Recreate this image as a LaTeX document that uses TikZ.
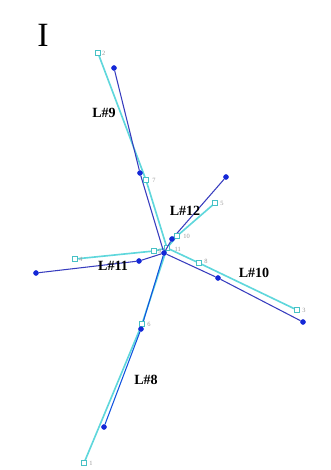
\documentclass[tikz,border=0pt]{standalone}
\usepackage{fontspec}
\setmainfont{Liberation Serif}
\usepackage{tikz}
\usetikzlibrary{positioning}
\definecolor{netblue}{RGB}{55,60,190}
\definecolor{dotblue}{RGB}{20,40,215}
\definecolor{netcyan}{RGB}{95,215,220}
\tikzset{
  meas/.style={rectangle,draw=netcyan!75!teal,fill=white,line width=0.6pt,
               minimum size=4pt,inner sep=0pt},
  est/.style={circle,fill=dotblue,minimum size=4.5pt,inner sep=0pt},
  nlab/.style={font=\fontsize{5.5}{5.5}\selectfont,text=gray!80,inner sep=1pt},
  llab/.style={font=\bfseries\fontsize{12}{13}\selectfont,inner sep=0pt},
  cline/.style={netcyan,line width=1.4pt},
  bline/.style={netblue,line width=0.9pt},
}
\begin{document}
\begin{tikzpicture}[x=0.03cm,y=-0.03cm]
  \useasboundingbox (0,0) rectangle (330,470);

  % measured positions
  \node[meas] (c2) at (98,53) {};
  \node[meas] (c7) at (146,180) {};
  \node[meas] (c5) at (215,203) {};
  \node[meas] (c10) at (177,236) {};
  \node[meas] (c11) at (167,248) {};
  \node[meas] (c4) at (75,259) {};
  \node[meas] (c9) at (154,251) {};
  \node[meas] (c8) at (199,263) {};
  \node[meas] (c3) at (297,310) {};
  \node[meas] (c6) at (142,324) {};
  \node[meas] (c1) at (84,463) {};

  \draw[cline] (c11) -- (c7) -- (c2);
  \draw[cline] (c11) -- (c10) -- (c5);
  \draw[cline] (c11) -- (c9) -- (c4);
  \draw[cline] (c11) -- (c8) -- (c3);
  \draw[cline] (c11) -- (c6) -- (c1);

  % estimated positions
  \node[est] (hub) at (164,253) {};
  \node[est] (top) at (114,68) {};
  \node[est] (b7) at (140,173) {};
  \node[est] (ne) at (226,177) {};
  \node[est] (b10) at (172,239) {};
  \node[est] (west) at (36,273) {};
  \node[est] (b9) at (139,261) {};
  \node[est] (b8) at (218,278) {};
  \node[est] (se) at (303,322) {};
  \node[est] (b6) at (141,329) {};
  \node[est] (low) at (104,427) {};

  \draw[bline] (hub) -- (b7) -- (top);
  \draw[bline] (hub) -- (b10) -- (ne);
  \draw[bline] (hub) -- (b9) -- (west);
  \draw[bline] (hub) -- (b8) -- (se);
  \draw[bline,dotblue!80!cyan] (hub) -- (b6) -- (low);

  % redraw markers on top
  \foreach \n in {c1,c2,c3,c4,c5,c6,c7,c8,c9,c10}
    \node[meas] at (\n) {};
  \foreach \n in {hub,top,b7,ne,b10,west,b9,b8,se,b6,low}
    \node[est] at (\n) {};

  \node[nlab,right=0pt of c2] {2};
  \node[nlab,right=2pt of c7] {7};
  \node[nlab,right=1pt of c5] {5};
  \node[nlab,right=2pt of c10] {10};
  \node[nlab,right=3pt of c11,yshift=-1pt] {11};
  \node[nlab,right=0pt of c4] {4};
  \node[nlab,right=0pt of c9] {9};
  \node[nlab,right=1pt of c8,yshift=1pt] {8};
  \node[nlab,right=1pt of c3] {3};
  \node[nlab,right=1pt of c6] {6};
  \node[nlab,right=1pt of c1] {1};

  % line labels
  \node[llab] (l9) at (104,113) {L\#9};
  \node[llab] (l12) at (185,211) {L\#12};
  \node[llab] (l11) at (113,266) {L\#11};
  \node[llab] (l10) at (254,273) {L\#10};
  \node[llab] (l8) at (146,380) {L\#8};

  \node[font=\fontsize{29}{29}\selectfont,inner sep=0pt] (panel) at (43,35) {I};
\end{tikzpicture}
\end{document}
